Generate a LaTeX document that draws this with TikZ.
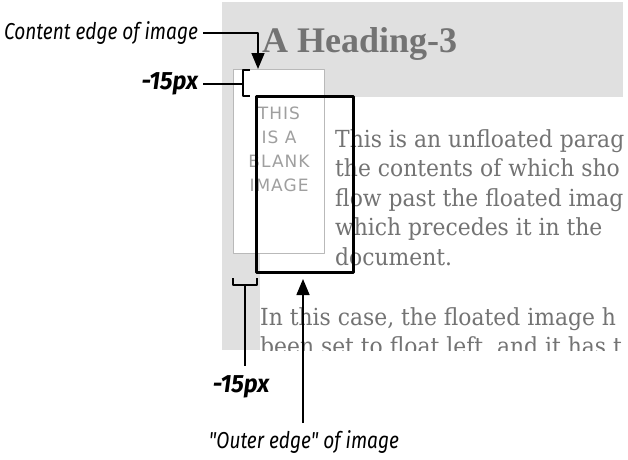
\documentclass[tikz,border=0pt]{standalone}
\usepackage{fontspec}
\setmainfont{Liberation Serif}
\newfontfamily\bodyfont[FakeStretch=0.93]{DejaVu Serif}
\newfontfamily\notefont[FakeStretch=0.83]{Fira Sans}
\newfontfamily\dimfont[FakeStretch=0.95]{Fira Sans}
\newfontfamily\imgfont[LetterSpace=6]{DejaVu Sans}
\usetikzlibrary{arrows.meta,positioning}
\definecolor{pagegray}{gray}{0.88}
\definecolor{inkgray}{gray}{0.45}
\tikzset{
  note/.style={font=\notefont\itshape\fontsize{23}{25}\selectfont, inner sep=2pt, outer sep=3pt},
  dimnote/.style={font=\dimfont\bfseries\itshape\fontsize{25}{27}\selectfont, inner sep=2pt, outer sep=3pt},
  lead/.style={line width=1.6pt},
  bodytext/.style={font=\bodyfont\fontsize{23.5}{29.5}\selectfont, text=inkgray, inner sep=0pt, anchor=base west}
}
\begin{document}
\begin{tikzpicture}[x=1pt,y=-1pt, >={Triangle[length=16pt,width=13pt]}, line join=round]
\useasboundingbox (0,0) rectangle (628,459);
% page background and content area
\fill[pagegray] (222,2) rectangle (623,350);
\fill[white] (260,97) rectangle (623,350);
\node[font=\bfseries\fontsize{36}{40}\selectfont, text=inkgray, inner sep=0pt, anchor=base west] (heading) at (262,52) {A Heading-3};
% floated image
\node[draw=gray!55, line width=1pt, fill=white, minimum width=91pt, minimum height=184pt, inner sep=0pt, anchor=north west] (img) at (233,69) {};
\node[font=\imgfont\fontsize{17}{24}\selectfont, text=gray!75, align=center, inner sep=0pt] (imgtext) at (279,149) {THIS\\IS A\\BLANK\\IMAGE};
% paragraphs
\begin{scope}
  \clip (260,97) rectangle (624,350);
  \node[bodytext] (par1a) at (335,147) {This is an unfloated parag};
  \node[bodytext] (par1b) at (335,176.5) {the contents of which sho};
  \node[bodytext] (par1c) at (335,206) {flow past the floated imag};
  \node[bodytext] (par1d) at (335,235.5) {which precedes it in the};
  \node[bodytext] (par1e) at (335,265) {document.};
  \node[bodytext] (par2a) at (260,325) {In this case, the floated image h};
  \node[bodytext] (par2b) at (260,354.5) {been set to float left, and it has t};
\end{scope}
% outer edge of the image
\node[draw, line width=3pt, minimum width=97pt, minimum height=176pt, inner sep=0pt, outer sep=0pt, anchor=north west] (outer) at (256,96) {};
% content edge
\node[note, anchor=east] (content) at (203,33) {Content edge of image};
\coordinate (contenttip) at (258,69);
\draw[lead,->] (content.east) -| (contenttip);
% top margin
\node[dimnote, anchor=east] (dimtop) at (203,84) {-15px};
\coordinate (topbrkt) at (243,84);
\draw[lead] (dimtop.east) -- (topbrkt);
\draw[lead] ([shift={(7,-14)}]topbrkt) -- ++(-7,0) -- ++(0,26) -- ++(7,0);
% bottom margin
\coordinate (botbrkt) at (245,285);
\draw[lead] ([shift={(-12,-7)}]botbrkt) -- ++(0,7) -- ++(24,0) -- ++(0,-7);
\node[dimnote, anchor=base] (dimbot) at (241,392) {-15px};
\draw[lead] (botbrkt) -- ([yshift=4pt]dimbot.north -| botbrkt);
% outer edge label
\node[note, anchor=base] (outeredge) at (304,448) {"Outer edge" of image};
\coordinate (outertip) at (303,279);
\draw[lead,->] ([yshift=2pt]outeredge.north -| outertip) -- (outertip);
\end{tikzpicture}
\end{document}
